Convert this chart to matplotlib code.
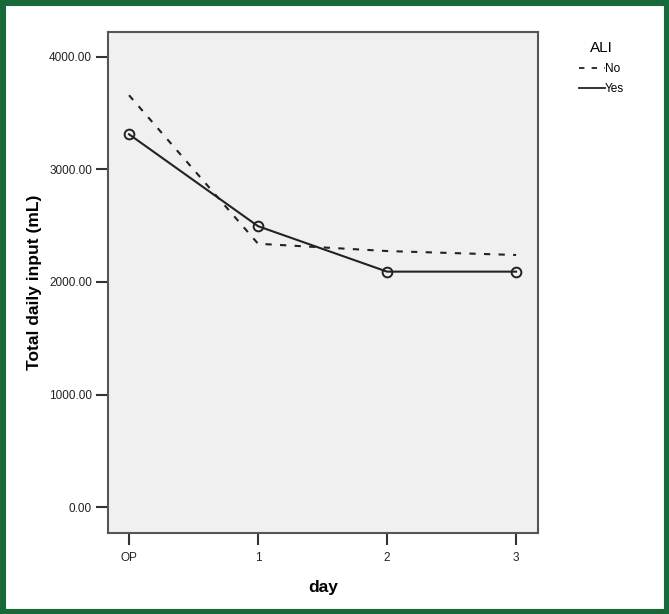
import numpy as np
import matplotlib.pyplot as plt
from matplotlib.lines import Line2D
from matplotlib.patches import Rectangle

# data
days = ['OP', '1', '2', '3']
input_no = [3660, 2340, 2275, 2240]
input_yes = [3313, 2496, 2092, 2092]
y_ticks = [0, 1000, 2000, 3000, 4000]

plt.rcParams['font.family'] = ['Liberation Sans', 'DejaVu Sans']

fig = plt.figure(figsize=(6.69, 6.14), dpi=100)
ax = fig.add_axes([108/669, 1 - 533/614, 430/669, 501/614])
ax.set_facecolor('#f0f0f0')

x = np.arange(len(days))
ax.plot(x, input_no, color='#222222', linestyle=(0, (3, 4)), linewidth=1.5)
ax.plot(x, input_yes, color='#222222', linestyle='-', linewidth=1.5,
        marker='o', markersize=7, markerfacecolor='none', markeredgewidth=1.4)

ax.set_xlim(-0.163, 3.17)
ax.set_ylim(-231, 4222)
ax.set_xticks(x)
ax.set_xticklabels(days)
ax.set_yticks(y_ticks)
ax.set_yticklabels([f'{v:.2f}' for v in y_ticks])
ax.tick_params(axis='both', length=8.5, width=1.5, color='#333333', labelsize=8.5,
               labelcolor='#222222', pad=3)
ax.tick_params(axis='x', pad=5)
for s in ax.spines.values():
    s.set_color('#555555')
    s.set_linewidth(1.5)

ax.set_xlabel('day', fontsize=12.5, fontweight='bold', labelpad=12)
ax.set_ylabel('Total daily input (mL)', fontsize=12.5, fontweight='bold', labelpad=5)

# legend
handles = [Line2D([], [], color='#222222', linestyle=(0, (3, 4)), linewidth=1.3),
           Line2D([], [], color='#222222', linestyle='-', linewidth=1.3)]
fig.legend(handles, ['No', 'Yes'], title='ALI', loc='upper left',
           bbox_to_anchor=(568/669, 1 - 30/614), frameon=False, fontsize=8.5,
           title_fontsize=11, handlelength=2.2, handletextpad=0.0,
           labelspacing=0.7)

# green frame around the figure
fig.patches.append(Rectangle((0, 0), 1, 1, transform=fig.transFigure,
                             fill=False, edgecolor='#17693a', linewidth=8))

fig.savefig('out.png', dpi=100)
